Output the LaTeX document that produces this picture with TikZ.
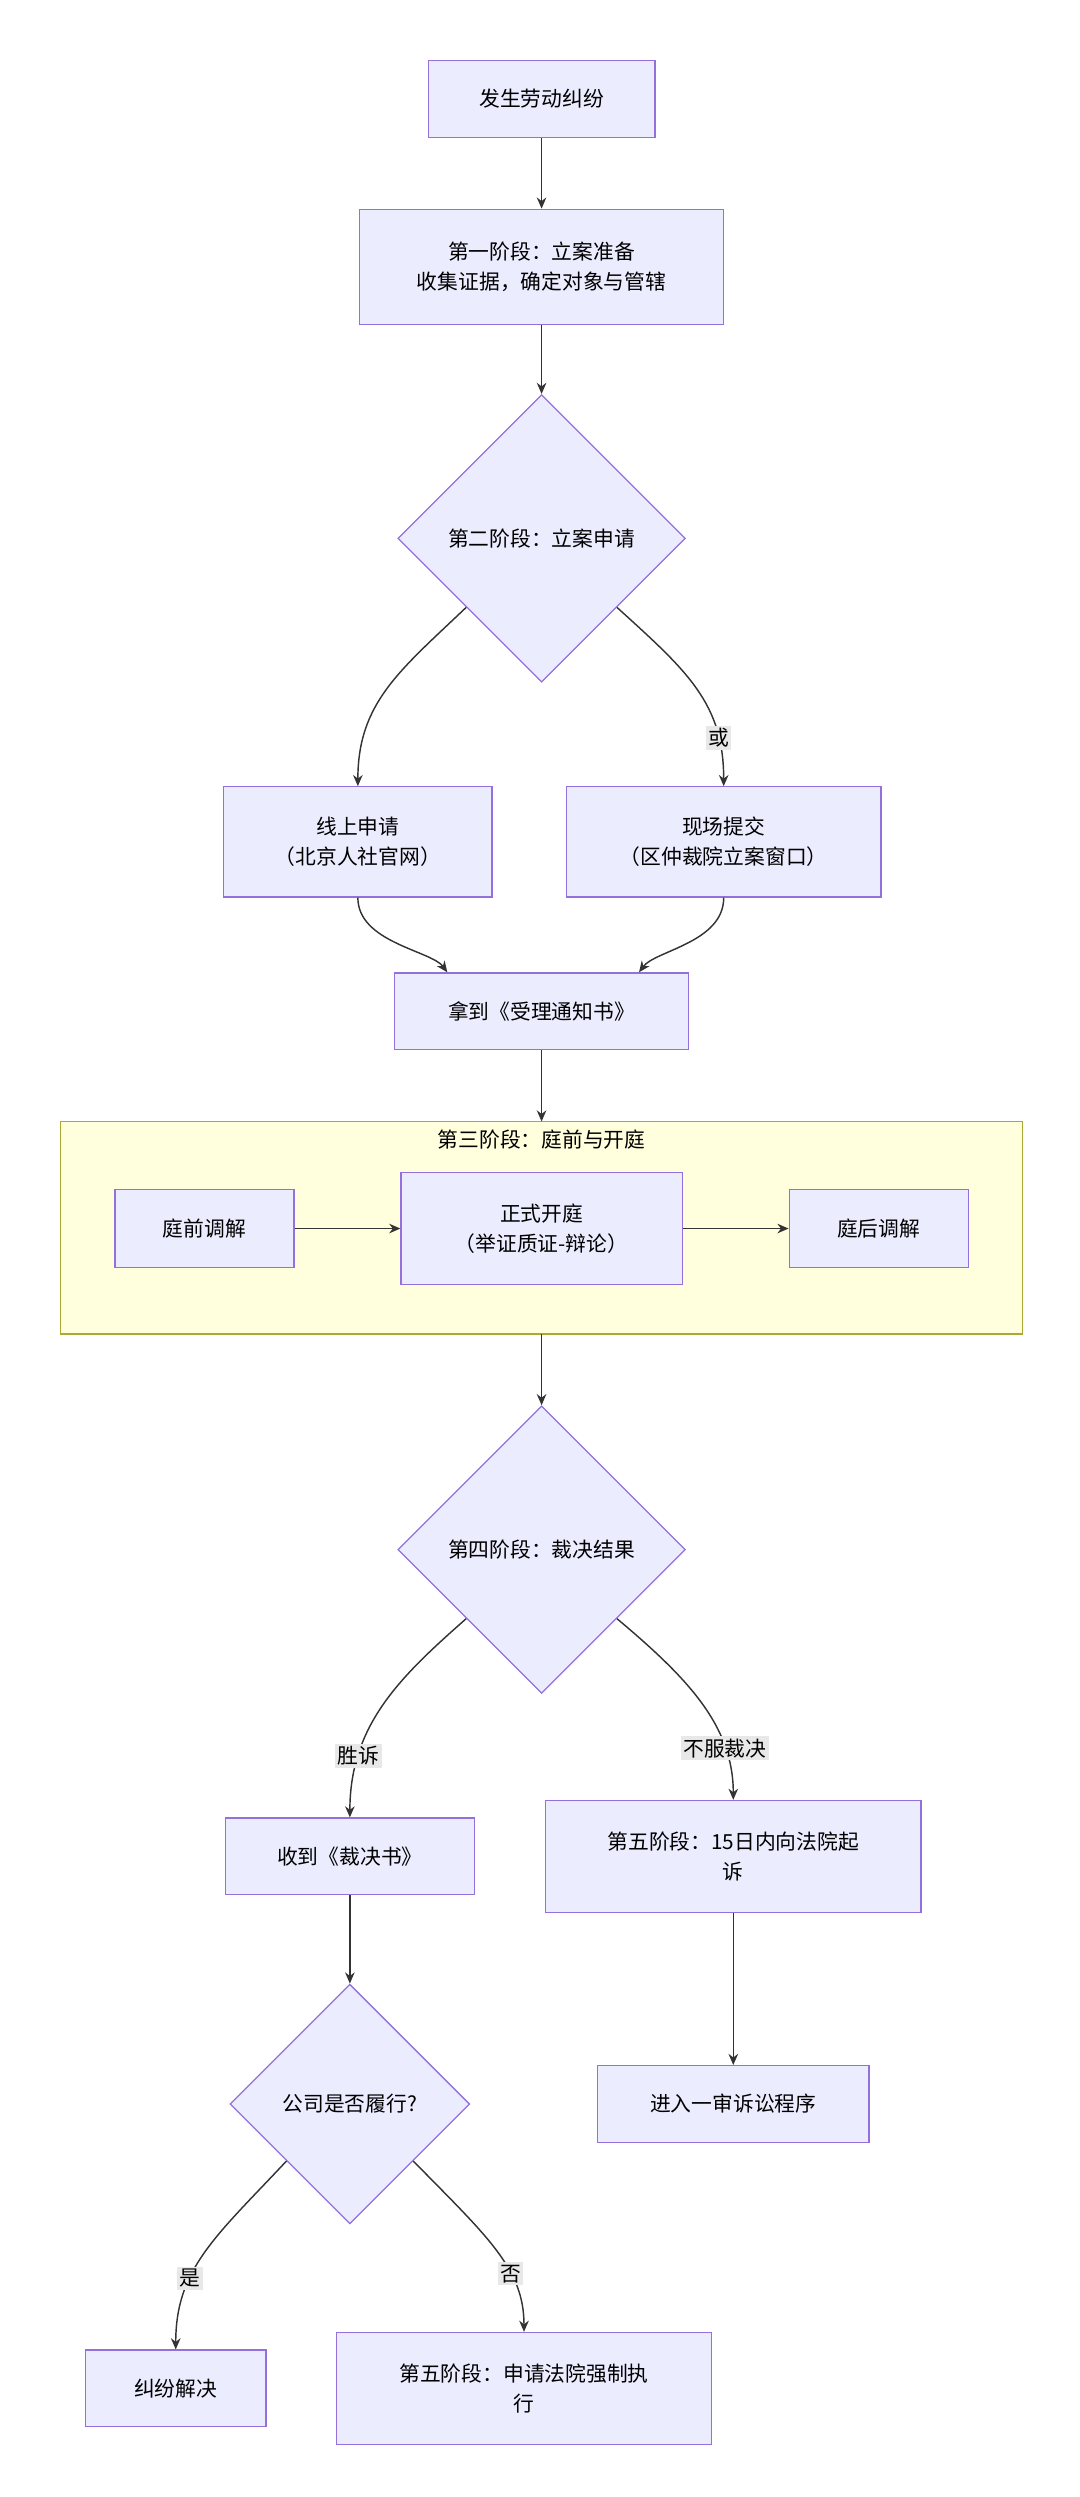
\documentclass[tikz,border=0pt]{standalone}
\usepackage{fontspec}
\setmainfont{Noto Sans CJK SC}
\usepackage{tikz}
\usetikzlibrary{shapes.geometric,arrows.meta}
\definecolor{nodefill}{HTML}{ECECFF}
\definecolor{nodeline}{HTML}{9370DB}
\definecolor{groupfill}{HTML}{FFFFDE}
\definecolor{groupline}{HTML}{AAAA33}
\definecolor{edgeline}{HTML}{333333}
\definecolor{labelfill}{HTML}{E8E8E8}
\tikzset{
  box/.style={rectangle, draw=nodeline, fill=nodefill, line width=0.8pt, align=center, font=\fontsize{13}{19}\selectfont, inner sep=0pt},
  choice/.style={diamond, draw=nodeline, fill=nodefill, line width=0.8pt, align=center, font=\fontsize{13}{19}\selectfont, inner sep=0pt, aspect=1},
  flow/.style={draw=edgeline, line width=0.9pt, -{Stealth[length=7pt,width=6pt]}},
  tag/.style={fill=labelfill, font=\fontsize{13}{15}\selectfont, inner sep=1.5pt}
}
\newcommand{\flowbox}[5] {\node at (#1) (#2) [box, minimum width=#3, minimum height=#4] {#5};}
\newcommand{\flowchoice}[4] {\node at (#1) (#2) [choice, minimum size=#3] {#4};}
\newcommand{\flowline}[2] {\draw [flow] (#1) -- (#2);}

\begin{document}
\begin{tikzpicture}[x=1pt, y=-1pt]
\useasboundingbox (0,0) rectangle (676,1563);

% stage three group
\draw [fill=groupfill, draw=groupline, line width=0.8pt] (38,702) rectangle (640,835);
\node (grouptitle) at (339,713) [font=\fontsize{13}{15}\selectfont] {第三阶段：庭前与开庭};

\flowbox {339,62}{start}{142pt}{48pt}{发生劳动纠纷}
\flowbox {339,167}{prepare}{228pt}{72pt}{第一阶段：立案准备\\收集证据，确定对象与管辖}
\flowchoice {339,337}{apply}{180pt}{第二阶段：立案申请}
\flowbox {224,527}{online}{168pt}{69pt}{线上申请\\（北京人社官网）}
\flowbox {453,527}{onsite}{197pt}{69pt}{现场提交\\（区仲裁院立案窗口）}
\flowbox {339,633}{notice}{184pt}{48pt}{拿到《受理通知书》}
\flowbox {128,769}{premed}{112pt}{49pt}{庭前调解}
\flowbox {339,769}{hearing}{176pt}{70pt}{正式开庭\\（举证质证-辩论）}
\flowbox {550,769}{postmed}{112pt}{49pt}{庭后调解}
\flowchoice {339,970}{result}{180pt}{第四阶段：裁决结果}
\flowbox {219,1162}{award}{156pt}{48pt}{收到《裁决书》}
\flowbox {459,1162}{sue}{235pt}{70pt}{第五阶段：15日内向法院起\\诉}
\flowchoice {219,1317}{perform}{150pt}{公司是否履行?}
\flowbox {459,1317}{firstinst}{170pt}{48pt}{进入一审诉讼程序}
\flowbox {110,1495}{solved}{113pt}{48pt}{纠纷解决}
\flowbox {328,1495}{enforce}{235pt}{70pt}{第五阶段：申请法院强制执\\行}

\flowline {start}{prepare}
\flowline {prepare}{apply}
\draw [flow] (apply.south west) ++(-2,-2) .. controls (250,420) and (224,440) .. (online.north);
\draw [flow] (apply.south east) ++(2,-2) .. controls (430,420) and (453,440) .. (onsite.north) node [pos=0.78, tag] {或};
\draw [flow] (online.south) .. controls (224,590) and (270,595) .. (notice.north west -| 280,609);
\draw [flow] (onsite.south) .. controls (453,590) and (410,595) .. (notice.north east -| 400,609);
\draw [flow] (notice) -- (339,702);
\flowline {premed}{hearing}
\flowline {hearing}{postmed}
\draw [flow] (339,835) -- (result.north);
\draw [flow] (result.south west) ++(-2,-2) .. controls (250,1050) and (219,1080) .. (award.north) node [pos=0.75, tag] {胜诉};
\draw [flow] (result.south east) ++(2,-2) .. controls (430,1050) and (459,1080) .. (sue.north) node [pos=0.75, tag] {不服裁决};
\flowline {award}{perform}
\flowline {sue}{firstinst}
\draw [flow] (perform.south west) ++(-2,-2) .. controls (135,1400) and (110,1420) .. (solved.north) node [pos=0.65, tag] {是};
\draw [flow] (perform.south east) ++(2,-2) .. controls (305,1400) and (328,1420) .. (enforce.north) node [pos=0.65, tag] {否};
\end{tikzpicture}
\end{document}
